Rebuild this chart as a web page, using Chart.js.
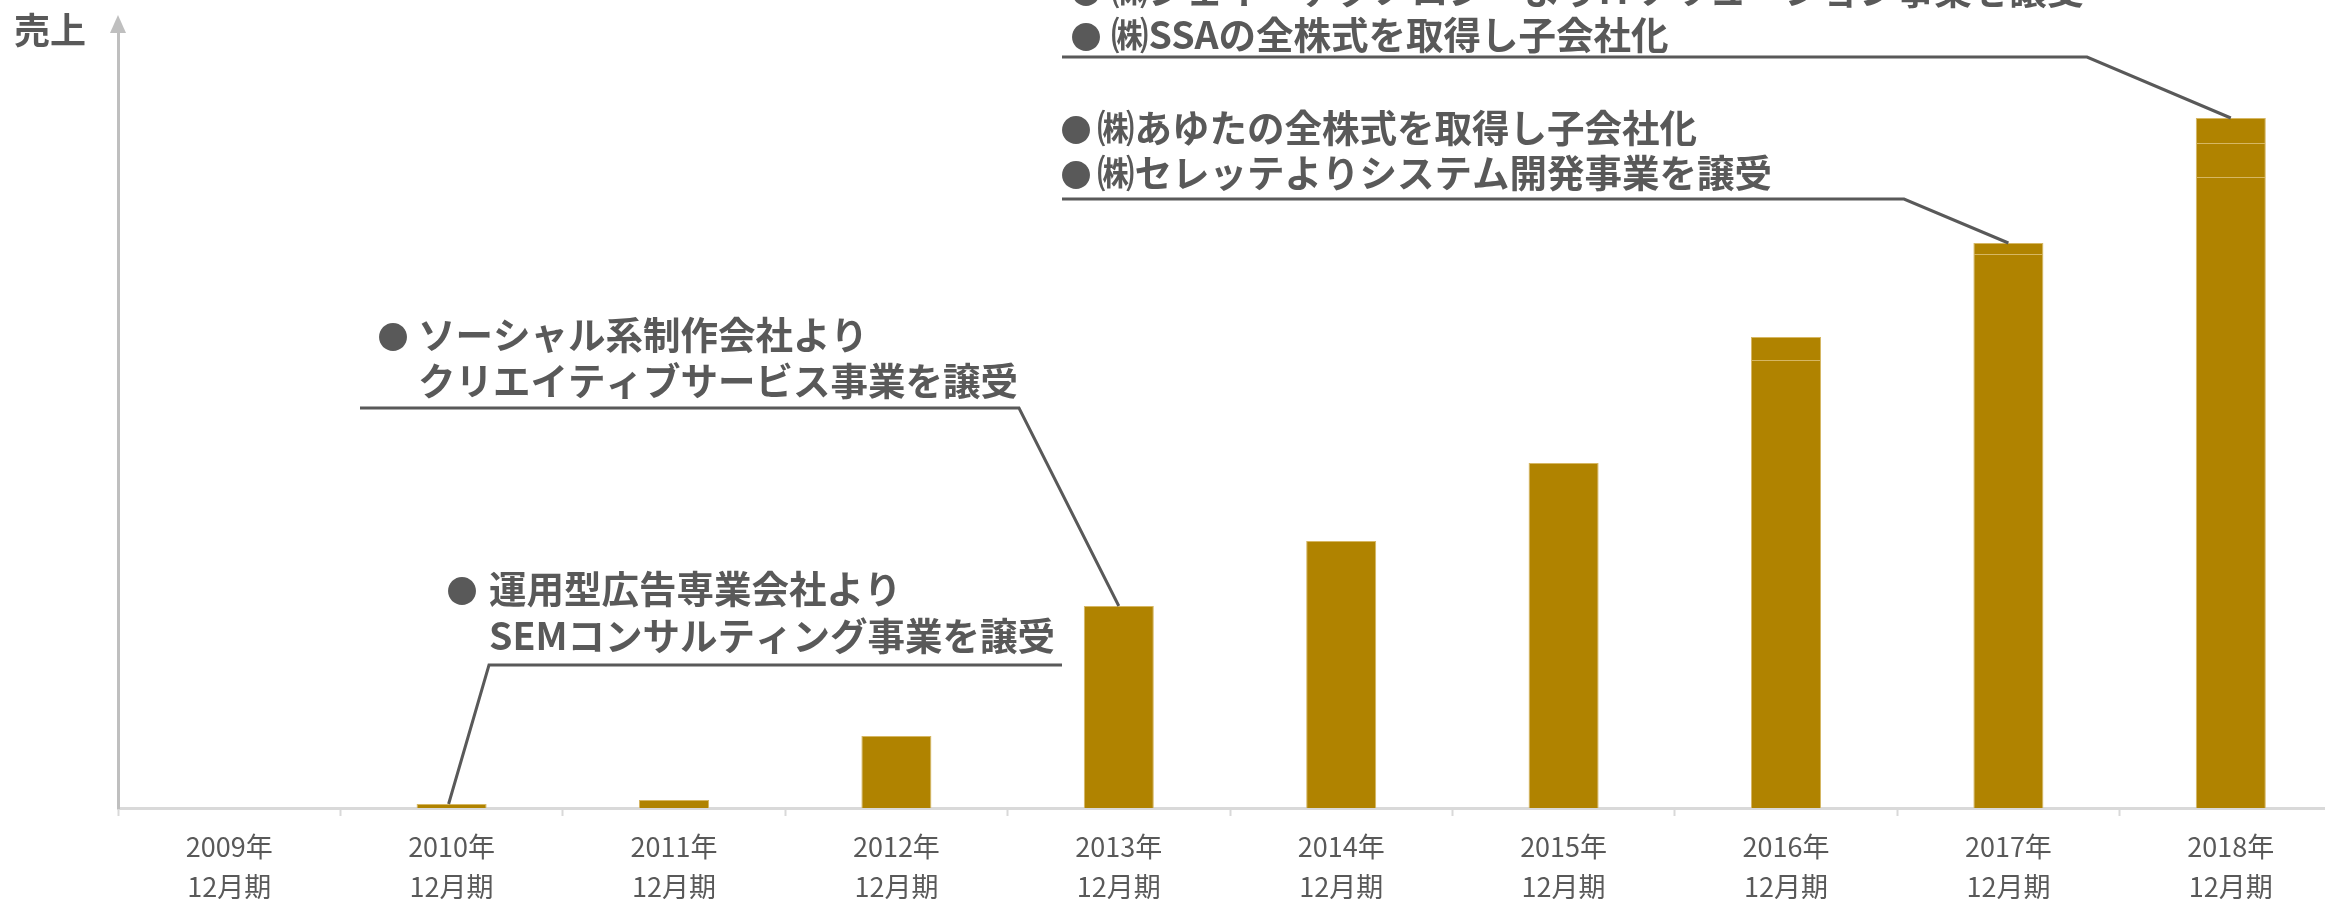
<!DOCTYPE html>
<html>
<head>
<meta charset="utf-8">
<script src="https://cdn.jsdelivr.net/npm/chart.js@4"></script>
<style>
  html, body { margin: 0; padding: 0; background: #fff; overflow: hidden; }
</style>
</head>
<body>
<canvas id="chart-uriage" width="2345" height="899"></canvas>
<script>
// 売上の推移 (目盛なし、相対値)
const years = ["2009年", "2010年", "2011年", "2012年", "2013年", "2014年", "2015年", "2016年", "2017年", "2018年"];
const period = "12月期";
const base = [0, 4, 8, 72, 202, 267, 345, 448, 554, 631];
const addA = [null, null, null, null, null, null, null, 23, 11, 34];
const addB = [null, null, null, null, null, null, null, null, null, 25];
const yMax = 776;

const notes = [
  { idx: 1, from: "left", lines: [["●", "運用型広告専業会社より"], ["", "SEMコンサルティング事業を譲受"]],
    bx: [462, 462], tx: [489, 489], ty: [589, 636], uy: 665, ux: [489, 1062] },
  { idx: 4, from: "right", lines: [["●", "ソーシャル系制作会社より"], ["", "クリエイティブサービス事業を譲受"]],
    bx: [393, 393], tx: [418, 418], ty: [335, 381], uy: 408, ux: [360, 1019] },
  { idx: 8, from: "right", lines: [["●", "㈱あゆたの全株式を取得し子会社化"], ["●", "㈱セレッテよりシステム開発事業を譲受"]],
    bx: [1076, 1076], tx: [1097, 1097], ty: [128, 173], uy: 199, ux: [1062, 1904] },
  { idx: 9, from: "right", lines: [["●", "㈱ジェイ・テクノロジーよりITソリューション事業を譲受"], ["●", "㈱SSAの全株式を取得し子会社化"]],
    bx: [1086, 1086], tx: [1111, 1111], ty: [-10, 35], uy: 57, ux: [1062, 2087] },
];

const gold = "#B08300";
const edge = "#D6B763";
const textGray = "#595959";

Chart.defaults.font.family = "'Noto Sans CJK JP', 'Noto Sans', sans-serif";

const extras = {
  id: "extras",
  afterDraw(chart) {
    const ctx = chart.ctx;
    const area = chart.chartArea;
    const xs = chart.scales.x;
    const ys = chart.scales.y;
    ctx.save();

    // y軸の矢印
    ctx.fillStyle = "#BFBFBF";
    ctx.beginPath();
    ctx.moveTo(area.left, 15);
    ctx.lineTo(area.left - 8, area.top + 1);
    ctx.lineTo(area.left + 8, area.top + 1);
    ctx.closePath();
    ctx.fill();

    ctx.fillStyle = textGray;
    ctx.font = "bold 36px 'Noto Sans CJK JP'";
    ctx.textBaseline = "middle";
    ctx.textAlign = "left";
    ctx.fillText("売上", 14, 30);

    notes.forEach(n => {
      const total = (base[n.idx] || 0) + (addA[n.idx] || 0) + (addB[n.idx] || 0);
      const px = xs.getPixelForValue(n.idx);
      const py = ys.getPixelForValue(total);

      ctx.strokeStyle = textGray;
      ctx.lineWidth = 3;
      ctx.beginPath();
      if (n.from === "left") {
        ctx.moveTo(n.ux[1], n.uy);
        ctx.lineTo(n.ux[0], n.uy);
        ctx.lineTo(px - 3, py);
      } else {
        ctx.moveTo(n.ux[0], n.uy);
        ctx.lineTo(n.ux[1], n.uy);
        ctx.lineTo(px, py);
      }
      ctx.stroke();

      n.lines.forEach((ln, i) => {
        if (ln[0]) {
          ctx.font = "31px 'Noto Sans CJK JP'";
          ctx.textAlign = "center";
          ctx.fillText(ln[0], n.bx[i], n.ty[i] + 1);
        }
        ctx.font = "bold 37.5px 'Noto Sans CJK JP'";
        ctx.textAlign = "left";
        ctx.fillText(ln[1], n.tx[i], n.ty[i]);
      });
    });
    ctx.restore();
  }
};

const el = document.getElementById("chart-uriage");

new Chart(el, {
  type: "bar",
  data: {
    labels: years.map(y => [y, period]),
    datasets: [
      { label: "既存事業", data: base },
      { label: "譲受・子会社化 A", data: addA },
      { label: "譲受・子会社化 B", data: addB },
    ].map(d => Object.assign(d, {
      backgroundColor: gold,
      borderColor: edge,
      borderWidth: 1,
      borderSkipped: "bottom",
      barPercentage: 0.315,
      categoryPercentage: 1,
    })),
  },
  options: {
    responsive: false,
    animation: false,
    devicePixelRatio: 1,
    layout: { padding: { left: 118, top: 32, right: 3, bottom: 0 } },
    plugins: {
      legend: { display: false },
      tooltip: { enabled: false },
    },
    scales: {
      x: {
        stacked: true,
        afterFit: s => { s.height = 91; },
        grid: {
          display: true,
          offset: true,
          drawOnChartArea: false,
          drawTicks: true,
          tickLength: 8,
          tickWidth: 2,
          color: "#D9D9D9",
        },
        border: { display: true, color: "#D9D9D9", width: 3 },
        ticks: {
          color: textGray,
          padding: 11,
          maxRotation: 0,
          autoSkip: false,
          font: { size: 27, lineHeight: 1.47 },
        },
      },
      y: {
        stacked: true,
        min: 0,
        max: yMax,
        afterFit: s => { s.width = 0; },
        grid: { display: false, drawTicks: false },
        border: { display: true, color: "#BFBFBF", width: 3 },
        ticks: { display: false },
      },
    },
  },
  plugins: [extras],
});
</script>
</body>
</html>
